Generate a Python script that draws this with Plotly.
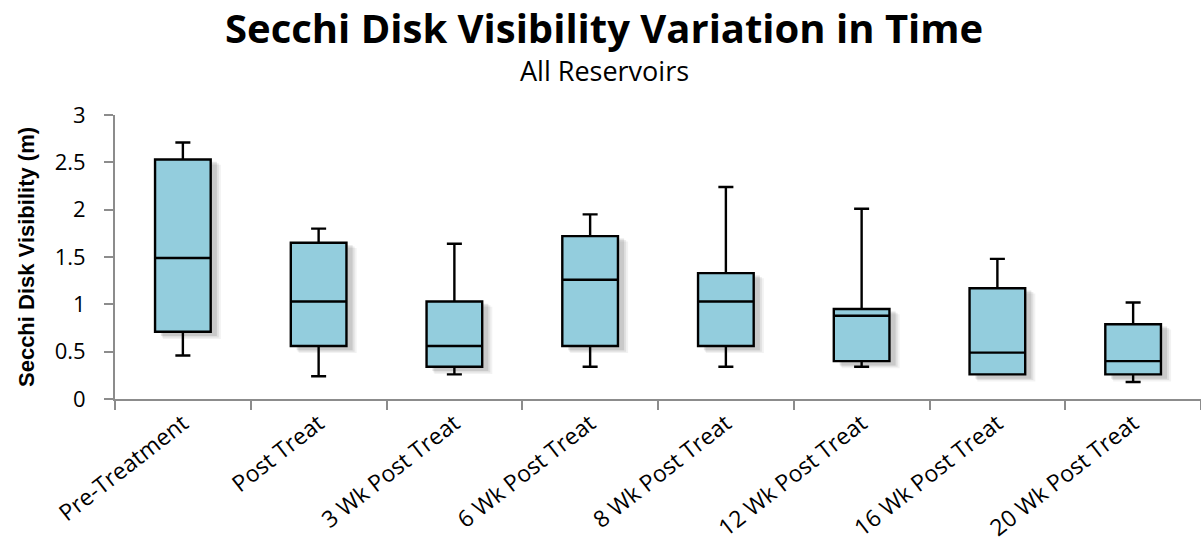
import plotly.graph_objects as go

categories = ["Pre-Treatment", "Post Treat", "3 Wk Post Treat", "6 Wk Post Treat",
              "8 Wk Post Treat", "12 Wk Post Treat", "16 Wk Post Treat", "20 Wk Post Treat"]
lower_whisker = [0.46, 0.24, 0.26, 0.34, 0.34, 0.34, 0.26, 0.18]
q1_values = [0.71, 0.56, 0.34, 0.56, 0.56, 0.40, 0.26, 0.26]
median_values = [1.49, 1.03, 0.56, 1.26, 1.03, 0.88, 0.49, 0.40]
q3_values = [2.53, 1.65, 1.03, 1.72, 1.33, 0.95, 1.17, 0.79]
upper_whisker = [2.71, 1.80, 1.64, 1.95, 2.24, 2.01, 1.48, 1.02]
y_ticks = [0, 0.5, 1, 1.5, 2, 2.5, 3]

BOX_FILL = "#93CDDD"
AXIS_GRAY = "#8C8C8C"
FONT = "Open Sans, Lato, sans-serif"

fig = go.Figure()

# soft drop shadows behind the boxes
shapes = []
for i, cat in enumerate(categories):
    for k, (dx, dy, a) in enumerate([(10, 0.075, 0.05), (8, 0.06, 0.07), (6, 0.045, 0.10)]):
        shapes.append(dict(
            type="rect", xref="x", yref="y", xsizemode="pixel", xanchor=cat,
            x0=-28 + dx - 2 + k, x1=28 + dx,
            y0=q1_values[i] - dy, y1=q3_values[i] - dy + 0.02,
            fillcolor=f"rgba(0,0,0,{a})", line=dict(width=0), layer="below"))

fig.add_trace(go.Box(
    x=categories,
    q1=q1_values, median=median_values, q3=q3_values,
    lowerfence=lower_whisker, upperfence=upper_whisker,
    fillcolor=BOX_FILL,
    line=dict(color="black", width=2.4),
    width=0.41,
    whiskerwidth=0.27,
    boxpoints=False,
    hoverinfo="y",
    showlegend=False,
))

fig.update_layout(
    width=1201, height=556,
    margin=dict(l=115, r=0, t=115, b=157),
    plot_bgcolor="white", paper_bgcolor="white",
    shapes=shapes,
    annotations=[
        dict(text="<b>Secchi Disk Visibility Variation in Time</b>",
             xref="paper", yref="paper", x=0.4503, y=1.308,
             xanchor="center", yanchor="middle", showarrow=False,
             font=dict(family=FONT, size=40, color="black")),
        dict(text="All Reservoirs",
             xref="paper", yref="paper", x=0.4503, y=1.158,
             xanchor="center", yanchor="middle", showarrow=False,
             font=dict(family=FONT, size=27, color="black")),
    ],
    xaxis=dict(
        type="category",
        categoryorder="array", categoryarray=categories,
        tickson="boundaries",
        ticks="outside", ticklen=9, tickcolor=AXIS_GRAY, tickwidth=2,
        showline=True, linecolor=AXIS_GRAY, linewidth=2,
        tickangle=-38,
        tickfont=dict(family=FONT, size=23, color="black"),
        showgrid=False, zeroline=False,
        range=[-0.5, 7.5],
    ),
    yaxis=dict(
        range=[0, 3], tickvals=y_ticks,
        ticktext=[f"{v:g}" for v in y_ticks],
        ticks="outside", ticklen=9, tickcolor=AXIS_GRAY, tickwidth=2,
        ticklabelstandoff=14,
        showline=True, linecolor=AXIS_GRAY, linewidth=2,
        tickfont=dict(family=FONT, size=22, color="black"),
        showgrid=False, zeroline=False,
        title=dict(text="<b>Secchi Disk Visibility (m)</b>", standoff=14,
                   font=dict(family="Liberation Sans Narrow, Arial Narrow, sans-serif", size=22, color="black")),
    ),
)

fig.write_html("out.html", config={"displayModeBar": False},
               post_script="document.body.style.margin='0';")
